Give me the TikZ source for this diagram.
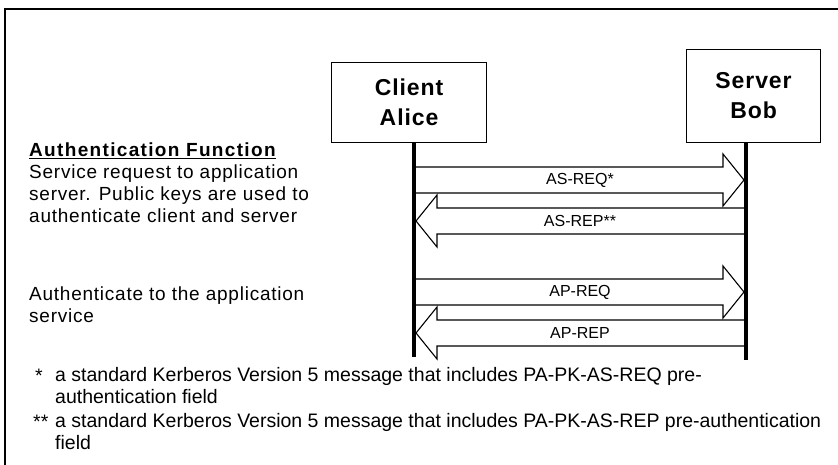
\documentclass[tikz,border=0pt]{standalone}
\usepackage{fontspec}
\setmainfont{Liberation Sans}
\newfontfamily\spaced[LetterSpace=4]{Liberation Sans}
\newfontfamily\spacedwide[LetterSpace=7]{Liberation Sans}
\newcommand{\rblock}[5]{% name, x start, x tip, y centre, label
  \draw[blk] (#2,{#4-13}) -- ({#3-21},{#4-13}) -- ({#3-21},{#4-26}) -- (#3,#4)
    -- ({#3-21},{#4+26}) -- ({#3-21},{#4+13}) -- (#2,{#4+13}) -- cycle;
  \node[lbl] (#1) at (580,#4) {#5};}
\newcommand{\lblock}[5]{% name, x start, x tip, y centre, label
  \draw[blk] (#2,{#4-13}) -- ({#3+21},{#4-13}) -- ({#3+21},{#4-26}) -- (#3,#4)
    -- ({#3+21},{#4+26}) -- ({#3+21},{#4+13}) -- (#2,{#4+13}) -- cycle;
  \node[lbl] (#1) at (580,#4) {#5};}
\begin{document}
\begin{tikzpicture}[x=1pt,y=-1pt,
  blk/.style={draw=black,line width=1.1pt,fill=white,line join=miter},
  life/.style={line width=4pt},
  actor/.style={draw,line width=1.1pt,fill=white,align=center,inner sep=0pt,
    font=\spaced\bfseries\fontsize{23}{30}\selectfont},
  lbl/.style={inner sep=0pt,font=\fontsize{16}{19}\selectfont},
  side/.style={inner sep=0pt,anchor=north west,align=left,
    font=\spaced\fontsize{19}{21.7}\selectfont},
  foot/.style={inner sep=0pt,anchor=north west,align=left,
    font=\fontsize{19.5}{22}\selectfont}]
\useasboundingbox (0,0) rectangle (838,465);
% frame
\draw[line width=2pt] (5,480) -- (5,9) -- (850,9);
% actors
\node[actor,minimum width=155pt,minimum height=80pt,anchor=south west] (client) at (331,143) {Client\\Alice};
\node[actor,minimum width=134pt,minimum height=93pt,anchor=south west] (server) at (686,143) {Server\\Bob};
\coordinate (cbot) at (414,357);
\coordinate (sbot) at (746,360);
\coordinate (ctop) at (client.south -| cbot);
\coordinate (stop) at (server.south -| sbot);
% messages
\rblock{asreq}{414}{744}{180}{AS-REQ*}
\lblock{asrep}{746}{416}{221}{AS-REP**}
\rblock{apreq}{414}{744}{292}{AP-REQ}
\lblock{aprep}{746}{416}{333}{AP-REP}
% lifelines
\draw[life] (ctop) -- (cbot);
\draw[life] (stop) -- (sbot);
% side texts
\node[side] (func) at (29,143) {{\spacedwide\bfseries\underline{Authentication Function}}\\
Service request to application\\
server. Public keys are used to\\
authenticate client and server};
\node[side] (auth) at (29,287) {Authenticate to the application\\service};
% footnotes
\node[foot] (s1) at (35,369) {*};
\node[foot] (f1) at (55,367) {a standard Kerberos Version 5 message that includes PA-PK-AS-REQ pre-\\authentication field};
\node[foot] (s2) at (33,415) {**};
\node[foot] (f2) at (55,413) {a standard Kerberos Version 5 message that includes PA-PK-AS-REP pre-authentication\\field};
\end{tikzpicture}
\end{document}
